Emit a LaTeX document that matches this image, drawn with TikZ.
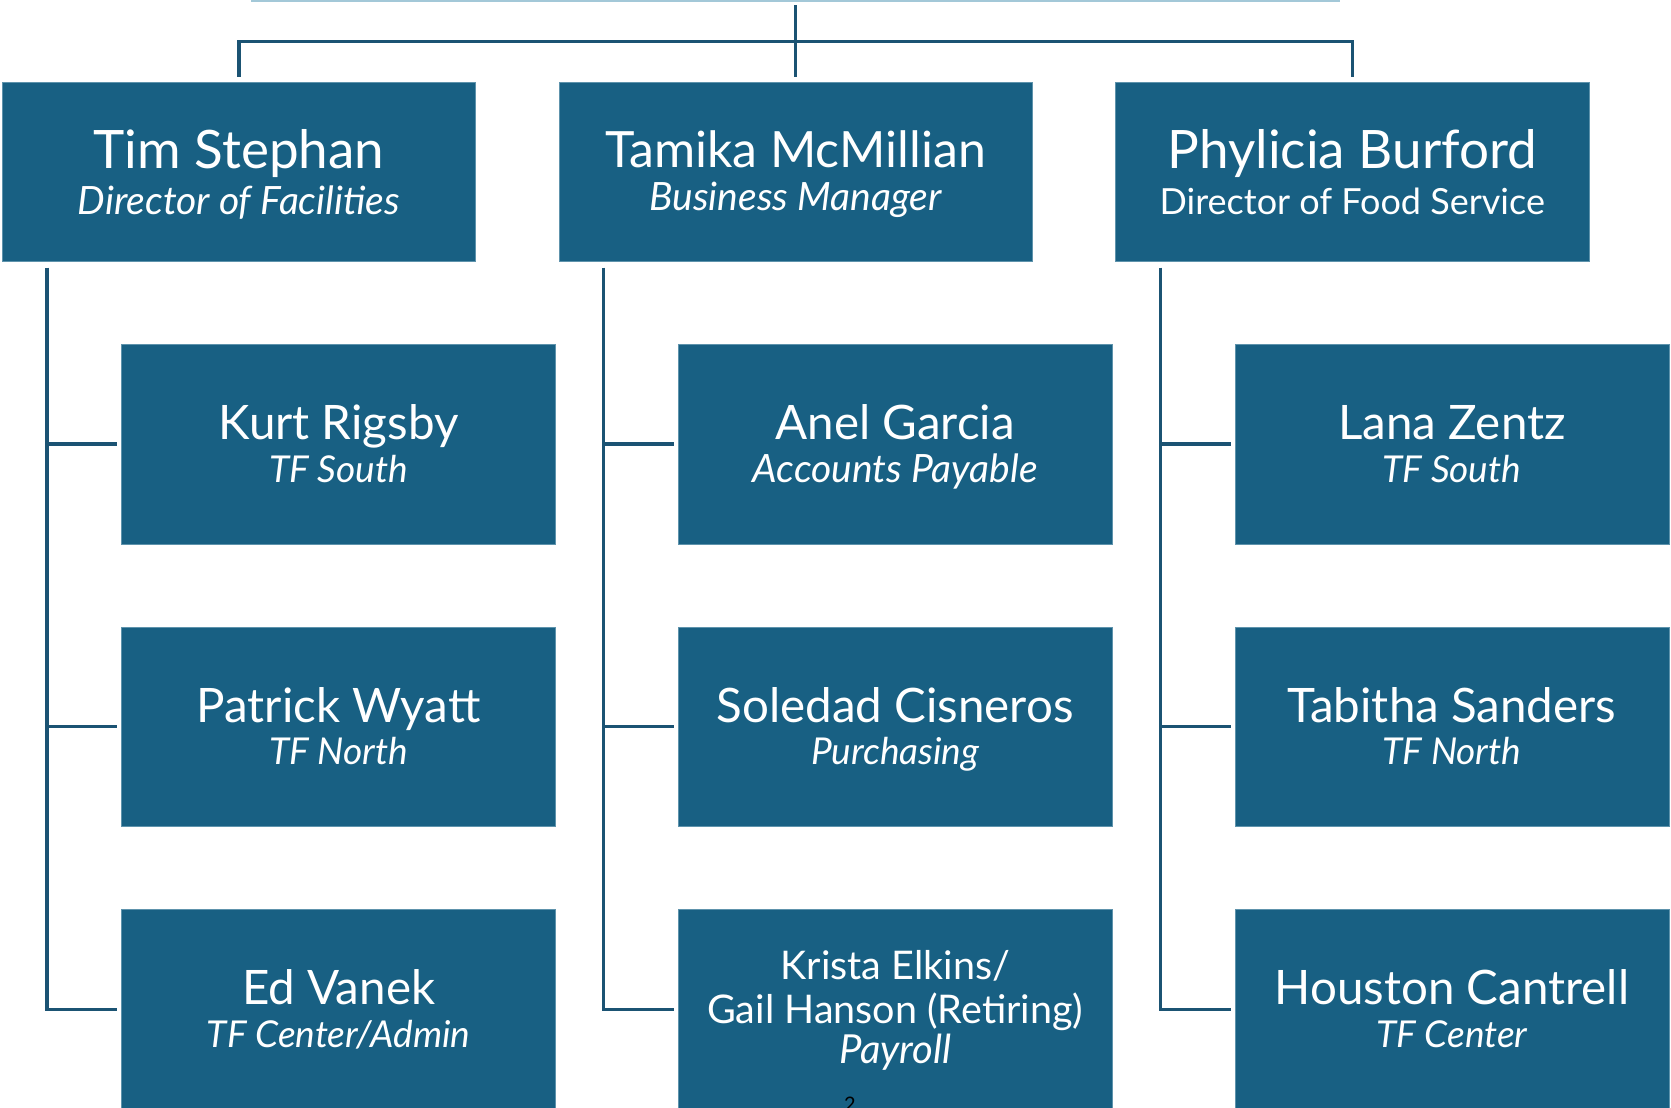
\documentclass[tikz,border=0pt]{standalone}
\usepackage{fontspec}
\setmainfont{Lato}
\usetikzlibrary{calc}
\definecolor{boxblue}{HTML}{186083}
\definecolor{boxedge}{HTML}{5E93AC}
\definecolor{linec}{HTML}{1B5373}
\definecolor{toplight}{HTML}{A3C8D8}
\begin{document}
\begin{tikzpicture}[x=1pt,y=-1pt,
  headbox/.style={fill=boxblue, draw=boxedge, line width=0.6pt, anchor=north west,
    minimum width=473.5pt, minimum height=179pt, inner sep=0pt, outer sep=0pt},
  subbox/.style={fill=boxblue, draw=boxedge, line width=0.6pt, anchor=north west,
    minimum width=434pt, minimum height=199.5pt, inner sep=0pt, outer sep=0pt},
  conn/.style={draw=linec, line width=3.4pt, line join=miter},
  hname/.style={anchor=base, text=white, inner sep=0pt, font=\fontsize{53}{57}\selectfont},
  htitle/.style={anchor=base, text=white, inner sep=0pt, font=\fontsize{39}{42}\selectfont\itshape},
  htitleup/.style={anchor=base, text=white, inner sep=0pt, font=\fontsize{36}{40}\selectfont},
  sname/.style={anchor=base, text=white, inner sep=0pt, font=\fontsize{47.5}{52}\selectfont},
  stitle/.style={anchor=base, text=white, inner sep=0pt, font=\fontsize{37}{40}\selectfont\itshape},
  kname/.style={anchor=base, text=white, inner sep=0pt, font=\fontsize{39.5}{43}\selectfont},
  ktitle/.style={anchor=base, text=white, inner sep=0pt, font=\fontsize{40}{44}\selectfont\itshape}
]
\useasboundingbox (0,0) rectangle (1671,1108);
\clip (0,0) rectangle (1671,1108);
\fill[white] (0,0) rectangle (1671,1108);

% top light line
\coordinate (tl1) at (251,0.8);
\coordinate (tl2) at (1340,0.8);
\draw[toplight, line width=2.4pt] (tl1) -- (tl2);

% head boxes
\node[headbox] (h1) at (2.1,82.2) {};
\node[headbox] (h2) at (558.8,82.2) {};
\node[headbox] (h3) at (1115.5,82.2) {};

% sub boxes
\foreach \c/\x in {1/121.6, 2/678.2, 3/1234.9}{
  \node[subbox] (s\c1) at (\x,344.4) {};
  \node[subbox] (s\c2) at (\x,627) {};
  \node[subbox] (s\c3) at (\x,909.6) {};
}

% top connectors
\coordinate (top) at ($(h2.north)+(0,-77)$);
\coordinate (bar) at ($(h2.north)+(0,-40.6)$);
\draw[conn] ($(h1.north |- bar)+(-1.7,0)$) -- ($(h3.north |- bar)+(1.7,0)$);
\draw[conn, shorten >=5.4pt] (top) -- (h2.north);
\draw[conn, shorten >=5.4pt] (h1.north |- bar) -- (h1.north);
\draw[conn, shorten >=5.4pt] (h3.north |- bar) -- (h3.north);

% side connectors
\foreach \c in {1,2,3}{
  \coordinate (v\c) at ($(h\c.south west)+(44.8,6.4)$);
  \draw[conn, shorten >=4.3pt] (v\c) |- (s\c3.west);
  \draw[conn, shorten >=4.3pt] (v\c |- s\c1.west) -- (s\c1.west);
  \draw[conn, shorten >=4.3pt] (v\c |- s\c2.west) -- (s\c2.west);
}

% head texts
\node[hname] (t1) at ($(h1.north)+(0,86.3)$) {Tim Stephan};
\node[htitle] (t1b) at ($(h1.north)+(0,131.8)$) {Director of Facilities};
\node[hname, font=\fontsize{50}{54}\selectfont] (t2) at ($(h2.north)+(0,85.2)$) {Tamika McMillian};
\node[htitle] (t2b) at ($(h2.north)+(0,128.3)$) {Business Manager};
\node[hname] (t3) at ($(h3.north)+(0,86.3)$) {Phylicia Burford};
\node[htitleup] (t3b) at ($(h3.north)+(0,131.8)$) {Director of Food Service};

% sub texts
\node[sname] (n11) at ($(s11.north)+(0,95)$) {Kurt Rigsby};
\node[stitle] (n11b) at ($(s11.north)+(0,137.6)$) {TF South};
\node[sname] (n12) at ($(s12.north)+(0,95)$) {Patrick Wyatt};
\node[stitle] (n12b) at ($(s12.north)+(0,137.6)$) {TF North};
\node[sname] (n13) at ($(s13.north)+(0,95)$) {Ed Vanek};
\node[stitle] (n13b) at ($(s13.north)+(0,137.6)$) {TF Center/Admin};

\node[sname] (n21) at ($(s21.north)+(0,95)$) {Anel Garcia};
\node[stitle, font=\fontsize{39}{42}\selectfont\itshape] (n21b) at ($(s21.north)+(0,137.6)$) {Accounts Payable};
\node[sname] (n22) at ($(s22.north)+(0,95)$) {Soledad Cisneros};
\node[stitle] (n22b) at ($(s22.north)+(0,137.6)$) {Purchasing};
\node[kname] (n23) at ($(s23.north)+(0,69.4)$) {Krista Elkins/};
\node[kname] (n23b) at ($(s23.north)+(0,114)$) {Gail Hanson (Retiring)};
\node[ktitle] (n23c) at ($(s23.north)+(0,153.4)$) {Payroll};

\node[sname] (n31) at ($(s31.north)+(0,95)$) {Lana Zentz};
\node[stitle] (n31b) at ($(s31.north)+(0,137.6)$) {TF South};
\node[sname] (n32) at ($(s32.north)+(0,95)$) {Tabitha Sanders};
\node[stitle] (n32b) at ($(s32.north)+(0,137.6)$) {TF North};
\node[sname] (n33) at ($(s33.north)+(0,95)$) {Houston Cantrell};
\node[stitle] (n33b) at ($(s33.north)+(0,137.6)$) {TF Center};

% page number
\node[anchor=north, inner sep=0pt, text=black, font=\fontsize{20}{22}\selectfont] (pg) at (850,1097) {2};
\end{tikzpicture}
\end{document}
